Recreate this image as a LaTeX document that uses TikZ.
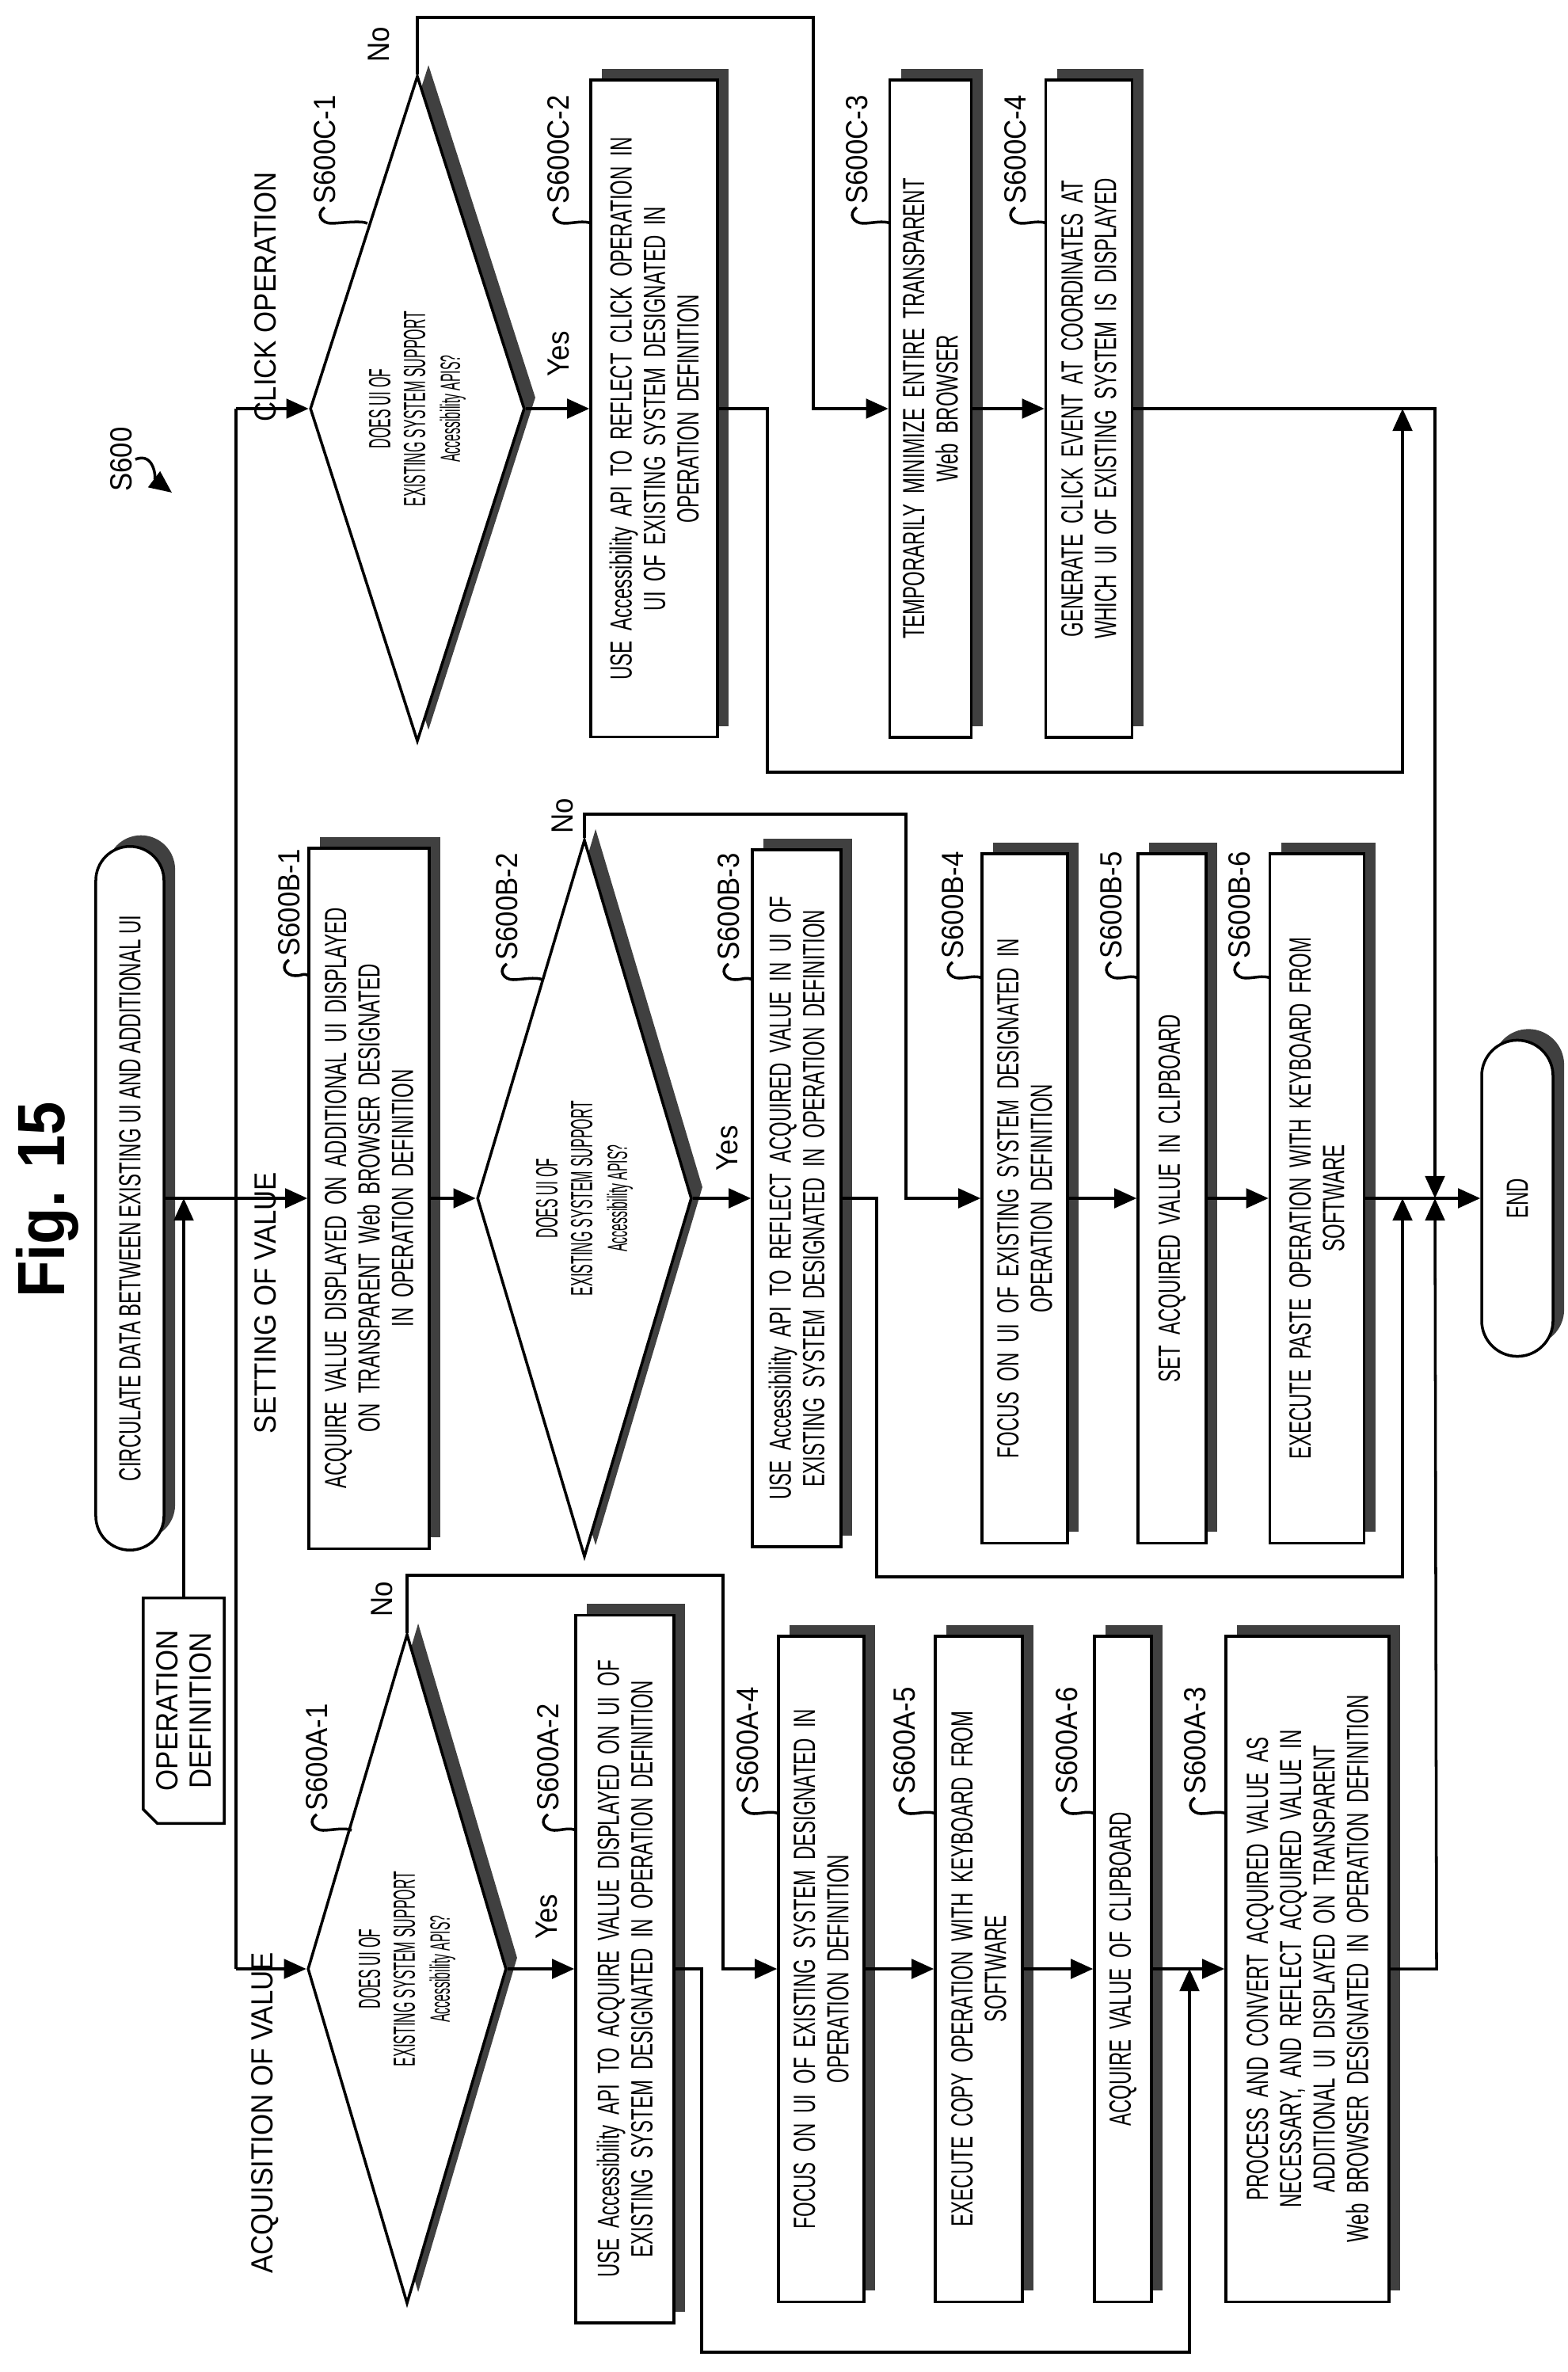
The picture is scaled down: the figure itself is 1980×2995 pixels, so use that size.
\documentclass[tikz,border=0pt]{standalone}
\usepackage{fontspec}
\setmainfont{Liberation Sans}[FakeStretch=0.62]
\newfontfamily\dmdfont{Liberation Sans}[FakeStretch=0.45]
\newfontfamily\figfont{Liberation Sans}[FakeStretch=0.9]
\usetikzlibrary{arrows.meta,calc,shapes.geometric,shapes.misc,shadows}

\tikzset{
  flow/.style={line width=1pt},
  shd/.style={drop shadow={shadow xshift=4pt,shadow yshift=4pt,fill=black!75,opacity=1}},
  proc/.style={draw,line width=1pt,fill=white,rotate=90,align=center,inner sep=2pt,
    font=\fontsize{11}{12}\selectfont,shd},
  test/.style={diamond,draw,line width=1pt,fill=white,rotate=90,align=center,inner sep=0pt,
    aspect=3,font=\dmdfont\fontsize{11}{12.5}\selectfont,shd},
  term/.style={rounded rectangle,draw,line width=1pt,fill=white,rotate=90,inner sep=2pt,
    font=\fontsize{11}{12}\selectfont,shd},
  lbl/.style={rotate=90,inner sep=1pt,font=\figfont\fontsize{11}{12}\selectfont},
  yn/.style={rotate=90,inner sep=1pt,font=\figfont\fontsize{11}{12}\selectfont},
}

% step number with its squiggle: x, y of text bottom, text, end x, name
\newcommand{\stepmark}[5]{%
  \node[lbl,anchor=west] (#5) at (#1,#2) {#3};
  \draw[flow] (#5.west) .. controls +(-12,8) and +(-12,0) .. ++(8,20)
    .. controls +(10,0) and +(-8,-4) .. (#4,{#2+20});
}

\begin{document}
\begin{tikzpicture}[x=0.01cm,y=-0.01cm,>={Triangle[length=8pt,width=7pt]}]
\useasboundingbox (0,0) rectangle (1980,2995);

% title and start
\node[rotate=90,font=\figfont\bfseries\fontsize{24}{26}\selectfont] (title) at (60,1515) {Fig. 15};
\node[term,minimum width=9.02cm,minimum height=0.86cm] (start) at (164,1513)
  {CIRCULATE DATA BETWEEN EXISTING UI AND ADDITIONAL UI};
\node[lbl,align=center,minimum width=2.83cm,minimum height=1.01cm] (opdef) at (232,2160)
  {OPERATION\\DEFINITION};
\draw[flow] (opdef.north east) -- (opdef.south east) -- (opdef.south west)
  -- ($(opdef.north west)+(18,0)$) -- ($(opdef.north west)+(0,-18)$) -- cycle;

\node[lbl] (s600) at (153,580) {S600};
\draw[flow,->] (s600.south) .. controls +(25,-10) and +(-20,-15) .. (217,622);

\node[lbl] (lclick) at (335,375) {CLICK OPERATION};
\node[lbl] (lset) at (335,1645) {SETTING OF VALUE};
\node[lbl] (lacq) at (335,2668) {ACQUISITION OF VALUE};

% click operation
\node[test,minimum width=8.4cm,minimum height=2.71cm] (c1) at (527,516)
  {DOES UI OF\\EXISTING SYSTEM SUPPORT\\{\fontsize{10}{12}\selectfont Accessibility APIS?}};
\node[proc,minimum width=8.29cm,minimum height=1.6cm,text width=7.9cm] (c2) at (826,516)
  {USE Accessibility API TO REFLECT CLICK OPERATION IN\\UI OF EXISTING SYSTEM DESIGNATED IN\\OPERATION DEFINITION};
\node[proc,minimum width=8.3cm,minimum height=1.03cm,text width=7.9cm] (c3) at (1175,516)
  {TEMPORARILY MINIMIZE ENTIRE TRANSPARENT\\Web BROWSER};
\node[proc,minimum width=8.3cm,minimum height=1.09cm,text width=7.9cm] (c4) at (1375,516)
  {GENERATE CLICK EVENT AT COORDINATES AT\\WHICH UI OF EXISTING SYSTEM IS DISPLAYED};

% setting of value
\node[proc,minimum width=8.84cm,minimum height=1.52cm,text width=8.4cm] (b1) at (466,1513)
  {ACQUIRE VALUE DISPLAYED ON ADDITIONAL UI DISPLAYED\\ON TRANSPARENT Web BROWSER DESIGNATED\\IN OPERATION DEFINITION};
\node[test,minimum width=9.05cm,minimum height=2.71cm] (b2) at (738,1513)
  {DOES UI OF\\EXISTING SYSTEM SUPPORT\\{\fontsize{10}{12}\selectfont Accessibility APIS?}};
\node[proc,minimum width=8.79cm,minimum height=1.12cm,text width=8.4cm] (b3) at (1006,1513)
  {USE Accessibility API TO REFLECT ACQUIRED VALUE IN UI OF\\EXISTING SYSTEM DESIGNATED IN OPERATION DEFINITION};
\node[proc,minimum width=8.7cm,minimum height=1.08cm,text width=8.3cm] (b4) at (1294,1513)
  {FOCUS ON UI OF EXISTING SYSTEM DESIGNATED IN\\OPERATION DEFINITION};
\node[proc,minimum width=8.7cm,minimum height=0.86cm,text width=8.3cm] (b5) at (1480,1513)
  {SET ACQUIRED VALUE IN CLIPBOARD};
\node[proc,minimum width=8.7cm,minimum height=1.19cm,text width=8.3cm] (b6) at (1663,1513)
  {EXECUTE PASTE OPERATION WITH KEYBOARD FROM\\SOFTWARE};
\node[term,minimum width=4.13cm,minimum height=0.9cm] (end) at (1916,1513) {END};

% acquisition of value
\node[test,minimum width=8.45cm,minimum height=2.51cm] (a1) at (514,2486)
  {DOES UI OF\\EXISTING SYSTEM SUPPORT\\{\fontsize{10}{12}\selectfont Accessibility APIS?}};
\node[proc,minimum width=8.93cm,minimum height=1.24cm,text width=8.5cm] (a2) at (789,2486)
  {USE Accessibility API TO ACQUIRE VALUE DISPLAYED ON UI OF\\EXISTING SYSTEM DESIGNATED IN OPERATION DEFINITION};
\node[proc,minimum width=8.4cm,minimum height=1.08cm,text width=8cm] (a4) at (1037,2486)
  {FOCUS ON UI OF EXISTING SYSTEM DESIGNATED IN\\OPERATION DEFINITION};
\node[proc,minimum width=8.4cm,minimum height=1.1cm,text width=8cm] (a5) at (1236,2486)
  {EXECUTE COPY OPERATION WITH KEYBOARD FROM\\SOFTWARE};
\node[proc,minimum width=8.4cm,minimum height=0.72cm,text width=8cm] (a6) at (1418,2486)
  {ACQUIRE VALUE OF CLIPBOARD};
\node[proc,minimum width=8.4cm,minimum height=2.06cm,text width=8cm] (a3) at (1651,2486)
  {PROCESS AND CONVERT ACQUIRED VALUE AS\\NECESSARY, AND REFLECT ACQUIRED VALUE IN\\ADDITIONAL UI DISPLAYED ON TRANSPARENT\\Web BROWSER DESIGNATED IN OPERATION DEFINITION};

% step numbers
\stepmark{400}{2291}{S600A-1}{444}{na1}
\stepmark{692}{2291}{S600A-2}{727}{na2}
\stepmark{944}{2270}{S600A-4}{983}{na4}
\stepmark{1142}{2270}{S600A-5}{1181}{na5}
\stepmark{1347}{2270}{S600A-6}{1382}{na6}
\stepmark{1509}{2270}{S600A-3}{1548}{na3}
\stepmark{365}{1212}{S600B-1}{390}{nb1}
\stepmark{640}{1217}{S600B-2}{685}{nb2}
\stepmark{920}{1217}{S600B-3}{950}{nb3}
\stepmark{1203}{1215}{S600B-4}{1240}{nb4}
\stepmark{1403}{1215}{S600B-5}{1437}{nb5}
\stepmark{1565}{1215}{S600B-6}{1604}{nb6}
\stepmark{410}{262}{S600C-1}{464}{nc1}
\stepmark{705}{262}{S600C-2}{746}{nc2}
\stepmark{1082}{262}{S600C-3}{1124}{nc3}
\stepmark{1282}{262}{S600C-4}{1321}{nc4}

% yes / no
\node[yn] (yc) at (705,447) {Yes};
\node[yn] (yb) at (918,1450) {Yes};
\node[yn] (ya) at (690,2420) {Yes};
\node[yn] (nc) at (478,56) {No};
\node[yn] (nb) at (710,1030) {No};
\node[yn] (na) at (482,2019) {No};

% trunk
\coordinate (bus) at (298,1513);
\coordinate (busC) at (298,516);
\coordinate (busA) at (298,2486);
\coordinate (merge) at (1812,1513);
\draw[flow] (start.south) -- (bus);
\draw[flow,->] (opdef.east) -- (opdef.east |- start);
\draw[flow] (busC) -- (busA);
\draw[flow,->] (busC) -- (c1.north);
\draw[flow,->] (bus) -- (b1.north);
\draw[flow,->] (busA) -- (a1.north);

% click operation lines
\coordinate (cno) at (1027,22);
\coordinate (cby) at (969,975);
\coordinate (cjoin) at (1771,516);
\coordinate (cout) at (1812,516);
\draw[flow,->] (c1.south) -- (c2.north);
\draw[flow,->] (c1.east) |- (cno) |- (c3.north);
\draw[flow,->] (c3.south) -- (c4.north);
\draw[flow,->] (c2.south) -| (cby) -| (cjoin);
\draw[flow,->] (c4.south) -- (cout) -- (merge);

% setting of value lines
\coordinate (bno) at (1144,1028);
\coordinate (bby) at (1107,1991);
\coordinate (bjoin) at (1771,1513);
\draw[flow,->] (b1.south) -- (b2.north);
\draw[flow,->] (b2.south) -- (b3.north);
\draw[flow,->] (b2.east) |- (bno) |- (b4.north);
\draw[flow,->] (b4.south) -- (b5.north);
\draw[flow,->] (b5.south) -- (b6.north);
\draw[flow,->] (b3.south) -| (bby) -| (bjoin);
\draw[flow] (b6.south) -- (merge);
\draw[flow,->] (merge) -- (end.north);

% acquisition of value lines
\coordinate (ano) at (913,1989);
\coordinate (aby) at (886,2970);
\coordinate (ajoin) at (1502,2486);
\coordinate (aout) at (1814,2486);
\draw[flow,->] (a1.south) -- (a2.north);
\draw[flow,->] (a1.east) |- (ano) |- (a4.north);
\draw[flow,->] (a4.south) -- (a5.north);
\draw[flow,->] (a5.south) -- (a6.north);
\draw[flow,->] (a6.south) -- (a3.north);
\draw[flow,->] (a2.south) -| (aby) -| (ajoin);
\draw[flow,->] (a3.south) -- (aout) -- (merge);
\end{tikzpicture}
\end{document}
